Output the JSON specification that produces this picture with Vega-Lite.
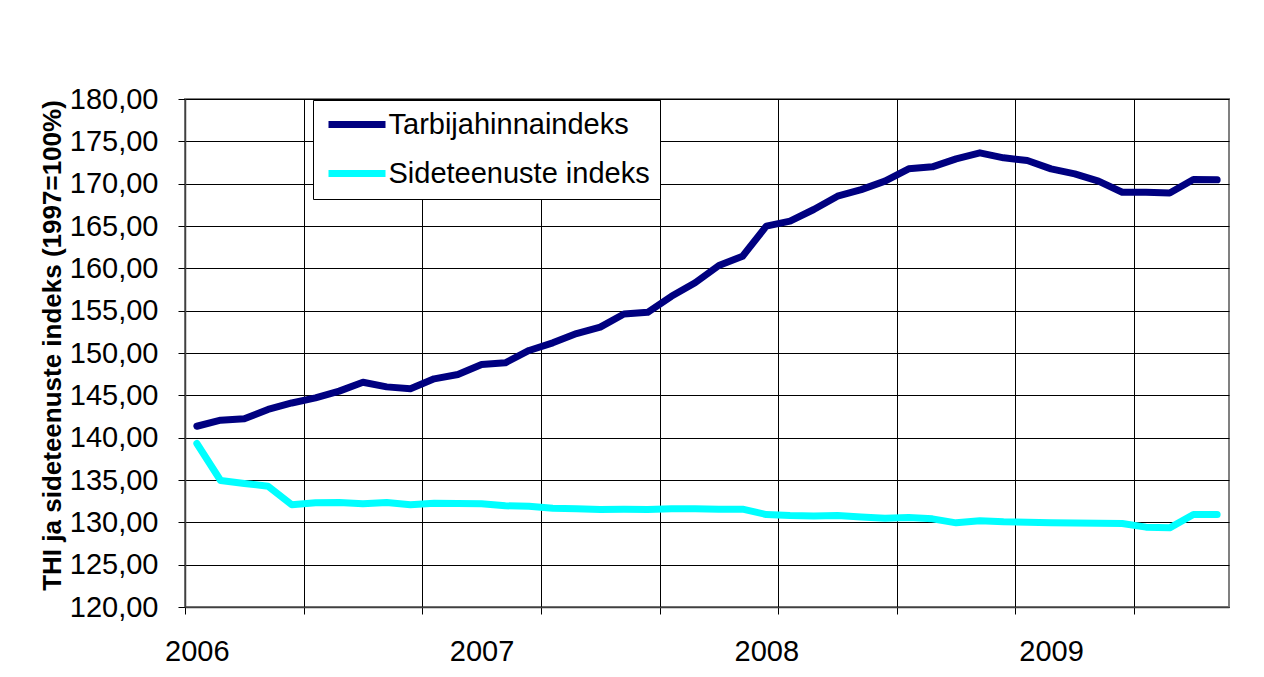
{
  "$schema": "https://vega.github.io/schema/vega-lite/v6.json",
  "autosize": {"type": "none"},
  "width": 1044,
  "height": 508,
  "padding": {"left": 185, "top": 99, "right": 35, "bottom": 70},
  "background": "white",
  "data": {
    "values": [
      {"i": 0, "seeria": "Tarbijahinnaindeks", "indeks": 141.35},
      {"i": 1, "seeria": "Tarbijahinnaindeks", "indeks": 142.06},
      {"i": 2, "seeria": "Tarbijahinnaindeks", "indeks": 142.23},
      {"i": 3, "seeria": "Tarbijahinnaindeks", "indeks": 143.33},
      {"i": 4, "seeria": "Tarbijahinnaindeks", "indeks": 144.1},
      {"i": 5, "seeria": "Tarbijahinnaindeks", "indeks": 144.7},
      {"i": 6, "seeria": "Tarbijahinnaindeks", "indeks": 145.5},
      {"i": 7, "seeria": "Tarbijahinnaindeks", "indeks": 146.55},
      {"i": 8, "seeria": "Tarbijahinnaindeks", "indeks": 146.0},
      {"i": 9, "seeria": "Tarbijahinnaindeks", "indeks": 145.77},
      {"i": 10, "seeria": "Tarbijahinnaindeks", "indeks": 146.95},
      {"i": 11, "seeria": "Tarbijahinnaindeks", "indeks": 147.46},
      {"i": 12, "seeria": "Tarbijahinnaindeks", "indeks": 148.64},
      {"i": 13, "seeria": "Tarbijahinnaindeks", "indeks": 148.84},
      {"i": 14, "seeria": "Tarbijahinnaindeks", "indeks": 150.3},
      {"i": 15, "seeria": "Tarbijahinnaindeks", "indeks": 151.2},
      {"i": 16, "seeria": "Tarbijahinnaindeks", "indeks": 152.3},
      {"i": 17, "seeria": "Tarbijahinnaindeks", "indeks": 153.05},
      {"i": 18, "seeria": "Tarbijahinnaindeks", "indeks": 154.6},
      {"i": 19, "seeria": "Tarbijahinnaindeks", "indeks": 154.8},
      {"i": 20, "seeria": "Tarbijahinnaindeks", "indeks": 156.7},
      {"i": 21, "seeria": "Tarbijahinnaindeks", "indeks": 158.3},
      {"i": 22, "seeria": "Tarbijahinnaindeks", "indeks": 160.33},
      {"i": 23, "seeria": "Tarbijahinnaindeks", "indeks": 161.43},
      {"i": 24, "seeria": "Tarbijahinnaindeks", "indeks": 164.98},
      {"i": 25, "seeria": "Tarbijahinnaindeks", "indeks": 165.57},
      {"i": 26, "seeria": "Tarbijahinnaindeks", "indeks": 166.95},
      {"i": 27, "seeria": "Tarbijahinnaindeks", "indeks": 168.52},
      {"i": 28, "seeria": "Tarbijahinnaindeks", "indeks": 169.3},
      {"i": 29, "seeria": "Tarbijahinnaindeks", "indeks": 170.3},
      {"i": 30, "seeria": "Tarbijahinnaindeks", "indeks": 171.75},
      {"i": 31, "seeria": "Tarbijahinnaindeks", "indeks": 171.99},
      {"i": 32, "seeria": "Tarbijahinnaindeks", "indeks": 172.93},
      {"i": 33, "seeria": "Tarbijahinnaindeks", "indeks": 173.64},
      {"i": 34, "seeria": "Tarbijahinnaindeks", "indeks": 173.05},
      {"i": 35, "seeria": "Tarbijahinnaindeks", "indeks": 172.73},
      {"i": 36, "seeria": "Tarbijahinnaindeks", "indeks": 171.75},
      {"i": 37, "seeria": "Tarbijahinnaindeks", "indeks": 171.16},
      {"i": 38, "seeria": "Tarbijahinnaindeks", "indeks": 170.3},
      {"i": 39, "seeria": "Tarbijahinnaindeks", "indeks": 168.99},
      {"i": 40, "seeria": "Tarbijahinnaindeks", "indeks": 168.99},
      {"i": 41, "seeria": "Tarbijahinnaindeks", "indeks": 168.9},
      {"i": 42, "seeria": "Tarbijahinnaindeks", "indeks": 170.49},
      {"i": 43, "seeria": "Tarbijahinnaindeks", "indeks": 170.45},
      {"i": 0, "seeria": "Sideteenuste indeks", "indeks": 139.31},
      {"i": 1, "seeria": "Sideteenuste indeks", "indeks": 134.94},
      {"i": 2, "seeria": "Sideteenuste indeks", "indeks": 134.59},
      {"i": 3, "seeria": "Sideteenuste indeks", "indeks": 134.27},
      {"i": 4, "seeria": "Sideteenuste indeks", "indeks": 132.07},
      {"i": 5, "seeria": "Sideteenuste indeks", "indeks": 132.3},
      {"i": 6, "seeria": "Sideteenuste indeks", "indeks": 132.34},
      {"i": 7, "seeria": "Sideteenuste indeks", "indeks": 132.19},
      {"i": 8, "seeria": "Sideteenuste indeks", "indeks": 132.34},
      {"i": 9, "seeria": "Sideteenuste indeks", "indeks": 132.07},
      {"i": 10, "seeria": "Sideteenuste indeks", "indeks": 132.26},
      {"i": 11, "seeria": "Sideteenuste indeks", "indeks": 132.22},
      {"i": 12, "seeria": "Sideteenuste indeks", "indeks": 132.19},
      {"i": 13, "seeria": "Sideteenuste indeks", "indeks": 131.95},
      {"i": 14, "seeria": "Sideteenuste indeks", "indeks": 131.9},
      {"i": 15, "seeria": "Sideteenuste indeks", "indeks": 131.67},
      {"i": 16, "seeria": "Sideteenuste indeks", "indeks": 131.6},
      {"i": 17, "seeria": "Sideteenuste indeks", "indeks": 131.52},
      {"i": 18, "seeria": "Sideteenuste indeks", "indeks": 131.55},
      {"i": 19, "seeria": "Sideteenuste indeks", "indeks": 131.52},
      {"i": 20, "seeria": "Sideteenuste indeks", "indeks": 131.6},
      {"i": 21, "seeria": "Sideteenuste indeks", "indeks": 131.6},
      {"i": 22, "seeria": "Sideteenuste indeks", "indeks": 131.55},
      {"i": 23, "seeria": "Sideteenuste indeks", "indeks": 131.55},
      {"i": 24, "seeria": "Sideteenuste indeks", "indeks": 130.92},
      {"i": 25, "seeria": "Sideteenuste indeks", "indeks": 130.8},
      {"i": 26, "seeria": "Sideteenuste indeks", "indeks": 130.76},
      {"i": 27, "seeria": "Sideteenuste indeks", "indeks": 130.8},
      {"i": 28, "seeria": "Sideteenuste indeks", "indeks": 130.62},
      {"i": 29, "seeria": "Sideteenuste indeks", "indeks": 130.49},
      {"i": 30, "seeria": "Sideteenuste indeks", "indeks": 130.57},
      {"i": 31, "seeria": "Sideteenuste indeks", "indeks": 130.41},
      {"i": 32, "seeria": "Sideteenuste indeks", "indeks": 129.94},
      {"i": 33, "seeria": "Sideteenuste indeks", "indeks": 130.18},
      {"i": 34, "seeria": "Sideteenuste indeks", "indeks": 130.06},
      {"i": 35, "seeria": "Sideteenuste indeks", "indeks": 130.02},
      {"i": 36, "seeria": "Sideteenuste indeks", "indeks": 129.94},
      {"i": 37, "seeria": "Sideteenuste indeks", "indeks": 129.92},
      {"i": 38, "seeria": "Sideteenuste indeks", "indeks": 129.9},
      {"i": 39, "seeria": "Sideteenuste indeks", "indeks": 129.86},
      {"i": 40, "seeria": "Sideteenuste indeks", "indeks": 129.43},
      {"i": 41, "seeria": "Sideteenuste indeks", "indeks": 129.35},
      {"i": 42, "seeria": "Sideteenuste indeks", "indeks": 130.92},
      {"i": 43, "seeria": "Sideteenuste indeks", "indeks": 130.92}
    ]
  },
  "mark": {"type": "line", "strokeWidth": 7, "strokeCap": "round", "strokeJoin": "round"},
  "encoding": {
    "x": {
      "field": "i",
      "type": "quantitative",
      "scale": {"domain": [-0.5, 43.5], "nice": false, "zero": false},
      "axis": {
        "title": null,
        "values": [-0.5, 0, 4.5, 9.5, 12, 14.5, 19.5, 24, 24.5, 29.5, 34.5, 36, 39.5],
        "labelExpr": "datum.value % 1 === 0 ? '' + (2006 + datum.value / 12) : ''",
        "gridOpacity": {"condition": {"test": "datum.value % 1 === 0", "value": 0}, "value": 1},
        "tickOpacity": {"condition": {"test": "datum.value % 1 === 0", "value": 0}, "value": 1},
        "labelOverlap": false,
        "labelFlush": false,
        "labelBound": false,
        "labelPadding": 23,
        "labelAngle": 0,
        "labelFontSize": 29
      }
    },
    "y": {
      "field": "indeks",
      "type": "quantitative",
      "scale": {"domain": [120, 180], "nice": false, "zero": false},
      "axis": {
        "title": "THI ja sideteenuste indeks (1997=100%)",
        "values": [120, 125, 130, 135, 140, 145, 150, 155, 160, 165, 170, 175, 180],
        "labelExpr": "replace(format(datum.value, '.2f'), '.', ',')",
        "labelPadding": 20,
        "labelFontSize": 29,
        "titleFontSize": 26,
        "titleFontWeight": "bold",
        "titleAngle": -90,
        "titleAlign": "center",
        "titleBaseline": "middle",
        "titleX": -133,
        "titleY": 246
      }
    },
    "color": {
      "field": "seeria",
      "type": "nominal",
      "scale": {"domain": ["Tarbijahinnaindeks", "Sideteenuste indeks"], "range": ["#000080", "#00FFFF"]},
      "legend": {
        "title": null,
        "orient": "none",
        "legendX": 128,
        "legendY": 1,
        "symbolType": "M-3,0H3",
        "symbolSize": 361,
        "symbolStrokeWidth": 7,
        "symbolOffset": 19.5,
        "labelOffset": 17,
        "labelFontSize": 29,
        "labelFont": "Liberation Sans",
        "labelColor": "black",
        "labelLimit": 500,
        "rowPadding": 19,
        "padding": 10,
        "fillColor": "white",
        "strokeColor": "black"
      }
    }
  },
  "config": {
    "font": "Liberation Sans",
    "view": {"stroke": "#808080", "strokeWidth": 2},
    "axis": {
      "labelFont": "Liberation Sans",
      "labelFontSize": 29,
      "labelColor": "black",
      "titleFont": "Liberation Sans",
      "titleColor": "black",
      "gridColor": "black",
      "gridWidth": 1,
      "gridOpacity": 1,
      "tickColor": "black",
      "tickSize": 7,
      "tickWidth": 1,
      "domainColor": "#404040",
      "domainWidth": 1.5
    }
  }
}
